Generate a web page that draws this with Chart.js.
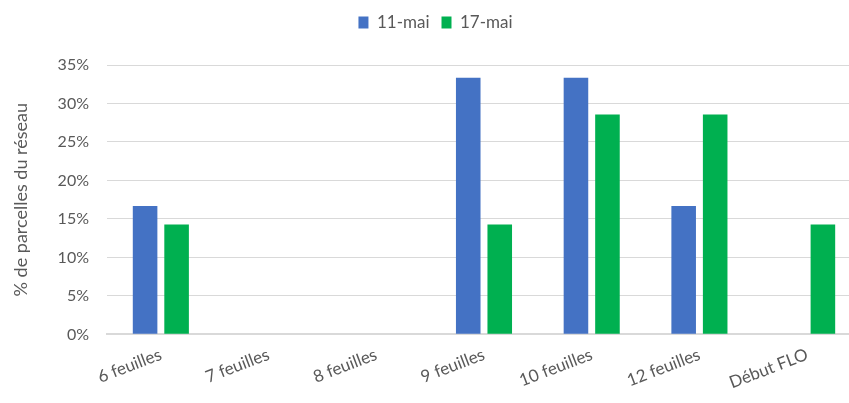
<!DOCTYPE html>
<html>
<head>
<meta charset="utf-8">
<script src="https://cdn.jsdelivr.net/npm/chart.js@4.4.0/dist/chart.umd.min.js"></script>
<style>
  html, body { margin: 0; padding: 0; background: #fff; overflow: hidden; }
  /* the reference is cut off at the right, so the chart is a bit wider than the window */
  #wrap { width: 864px; height: 403px; }
</style>
</head>
<body>
<div id="wrap"><canvas id="chart"></canvas></div>
<script>
// categories and series
var categories = ['6 feuilles', '7 feuilles', '8 feuilles', '9 feuilles', '10 feuilles', '12 feuilles', 'Début FLO'];
var mai11 = [16.67, 0, 0, 33.33, 33.33, 16.67, 0];
var mai17 = [14.29, 0, 0, 14.29, 28.57, 28.57, 14.29];
var seriesNames = ['11-mai', '17-mai'];

var fontFamily = 'Lato, "Open Sans", sans-serif';
var textColor = '#595959';

// gives the legend some extra room below it
var legendGap = {
    id: 'legendGap',
    beforeInit: function (chart) {
        var origFit = chart.legend.fit;
        chart.legend.fit = function () {
            origFit.bind(chart.legend)();
            this.height += 24;
        };
    }
};

var ctx = document.getElementById('chart');
var myChart = new Chart(ctx, {
    type: 'bar',
    data: {
        labels: categories,
        datasets: [
            { label: seriesNames[0], data: mai11, backgroundColor: '#4472c4',
              barPercentage: 0.78, categoryPercentage: 0.585 },
            { label: seriesNames[1], data: mai17, backgroundColor: '#00b050',
              barPercentage: 0.78, categoryPercentage: 0.585 }
        ]
    },
    plugins: [legendGap],
    options: {
        responsive: true,
        maintainAspectRatio: false,
        animation: false,
        layout: { padding: { left: 10, right: 3, top: 2, bottom: 0 } },
        plugins: {
            legend: {
                display: true,
                position: 'top',
                labels: {
                    boxWidth: 10,
                    boxHeight: 12,
                    color: textColor,
                    padding: 12,
                    font: { family: fontFamily, size: 17 }
                }
            },
            tooltip: { enabled: false }
        },
        scales: {
            x: {
                grid: { display: false, drawTicks: false },
                border: { display: true, color: '#d9d9d9', width: 2 },
                ticks: {
                    color: textColor,
                    minRotation: 21,
                    maxRotation: 21,
                    padding: 10,
                    font: { family: fontFamily, size: 17 }
                }
            },
            y: {
                min: 0,
                max: 35,
                grid: { color: '#d9d9d9', drawTicks: false, lineWidth: 1 },
                border: { display: false },
                ticks: {
                    stepSize: 5,
                    color: textColor,
                    padding: 18,
                    font: { family: fontFamily, size: 16 },
                    callback: function (v) { return v + '%'; }
                },
                title: {
                    display: true,
                    text: '% de parcelles du réseau',
                    color: textColor,
                    font: { family: fontFamily, size: 18 },
                    padding: { top: 0, bottom: 8 }
                }
            }
        }
    }
});
</script>
</body>
</html>
